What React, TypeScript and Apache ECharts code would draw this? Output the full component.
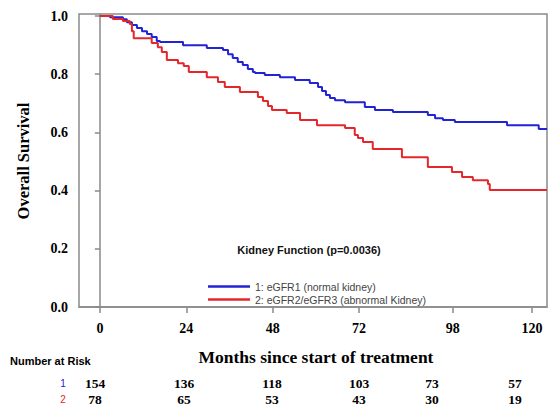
import React, { useEffect, useRef } from "react";
import * as echarts from "echarts";

// ---- data ----
const blueTimes = [0, 2.8, 6.4, 7.5, 8.9, 10.3, 11.7, 13.1, 14.4, 15.8, 16.7, 23.1, 29.7, 34.2, 35.6, 36.9, 38.3, 39.7, 41.1, 42.5, 43.1, 45.8, 50, 54.2, 58.3, 60.6, 61.7, 62.8, 63.9, 65.3, 68.1, 73.6, 76.4, 81.4, 91.1, 93.1, 95.3, 98.6, 113.1, 121.9, 124.2];
const blueSurv = [1.0, 0.996, 0.989, 0.979, 0.969, 0.959, 0.948, 0.938, 0.928, 0.914, 0.911, 0.9, 0.89, 0.883, 0.869, 0.856, 0.842, 0.832, 0.818, 0.808, 0.804, 0.797, 0.79, 0.78, 0.77, 0.756, 0.742, 0.729, 0.718, 0.711, 0.704, 0.687, 0.677, 0.67, 0.66, 0.649, 0.643, 0.636, 0.625, 0.612, 0.612];
const redTimes = [0, 3.6, 6.4, 8.3, 8.9, 9.4, 14.4, 16.1, 17.2, 18.6, 21.7, 23.3, 24.7, 29.7, 32.8, 34.7, 38.9, 43.9, 45.3, 46.7, 47.8, 51.9, 55.6, 60.3, 68.1, 70.8, 71.7, 73.1, 75.8, 83.9, 91.1, 97.8, 100.6, 103.6, 107.8, 108.3, 124.2];
const redSurv = [1.0, 0.99, 0.983, 0.973, 0.948, 0.924, 0.907, 0.893, 0.876, 0.849, 0.838, 0.828, 0.808, 0.79, 0.773, 0.756, 0.739, 0.722, 0.708, 0.691, 0.677, 0.667, 0.643, 0.625, 0.615, 0.591, 0.581, 0.567, 0.543, 0.515, 0.481, 0.464, 0.447, 0.436, 0.423, 0.402, 0.402];
const xTickValues = [0, 24, 48, 72, 98, 120];
const yTickValues = [0, 0.2, 0.4, 0.6, 0.8, 1.0];
const seriesNames = ["1: eGFR1 (normal kidney)", "2: eGFR2/eGFR3 (abnormal Kidney)"];
const riskGroupLabels = ["1", "2"];
const riskGroup1 = [154, 136, 118, 103, 73, 57];
const riskGroup2 = [78, 65, 53, 43, 30, 19];
const titleText = "Kidney Function (p=0.0036)";
const yTitle = "Overall Survival";
const xTitle = "Months since start of treatment";
const riskTitle = "Number at Risk";

// ---- layout / style ----
const BLUE = "#2323d6";
const RED = "#e5262b";
const SERIF = "'Liberation Serif', 'Times New Roman', serif";
const SANS = "'Liberation Sans', Arial, sans-serif";
const AXIS_GRAY = "#8a8a8a";
const riskColX = [95, 184, 272, 359, 432, 515];
const riskRowY = [383, 399];

export default function App() {
  const ref = useRef<HTMLDivElement>(null);
  useEffect(() => {
    if (!ref.current) return;
    const chart = echarts.init(ref.current, undefined, { renderer: "svg" });
    const zip = (t: number[], s: number[]) => t.map((v, i) => [v, s[i]]);

    const riskTexts: any[] = [];
    [riskGroup1, riskGroup2].forEach((row, r) => {
      const y = riskRowY[r];
      riskTexts.push({
        type: "text",
        x: 63,
        y,
        style: {
          text: riskGroupLabels[r],
          fill: r === 0 ? BLUE : RED,
          font: `10px ${SANS}`,
          align: "center",
          verticalAlign: "middle",
        },
      });
      row.forEach((v, i) => {
        riskTexts.push({
          type: "text",
          x: riskColX[i],
          y,
          style: {
            text: String(v),
            fill: "#000",
            font: `bold 13.5px ${SERIF}`,
            align: "center",
            verticalAlign: "middle",
          },
        });
      });
    });

    chart.setOption({
      animation: false,
      backgroundColor: "#fff",
      grid: {
        left: 79,
        right: 1,
        top: 14,
        bottom: 101,
        show: true,
        borderColor: AXIS_GRAY,
        borderWidth: 1.5,
        backgroundColor: "transparent",
      },
      xAxis: {
        type: "value",
        min: -5.8,
        max: 124.2,
        splitLine: { show: false },
        axisLine: { show: true, onZero: false, lineStyle: { color: AXIS_GRAY, width: 1.5 } },
        axisTick: {
          show: true,
          length: 6,
          customValues: xTickValues,
          lineStyle: { color: AXIS_GRAY, width: 1.5 },
        },
        axisLabel: {
          customValues: xTickValues,
          margin: 14,
          fontFamily: SERIF,
          fontWeight: "bold",
          fontSize: 14,
          color: "#000",
        },
      },
      yAxis: {
        type: "value",
        min: 0,
        max: 1.007,
        splitLine: { show: false },
        axisLine: { show: true, lineStyle: { color: AXIS_GRAY, width: 1.5 } },
        axisTick: {
          show: true,
          length: 5,
          customValues: yTickValues,
          lineStyle: { color: AXIS_GRAY, width: 1.5 },
        },
        axisLabel: {
          customValues: yTickValues,
          margin: 11,
          formatter: (v: number) => v.toFixed(1),
          fontFamily: SERIF,
          fontWeight: "bold",
          fontSize: 14,
          color: "#000",
        },
      },
      legend: {
        orient: "vertical",
        left: 203,
        top: 276,
        itemWidth: 42,
        itemHeight: 2.5,
        itemGap: 2,
        icon: "rect",
        data: seriesNames,
        textStyle: { fontFamily: SANS, fontSize: 10.5, color: "#444", padding: [0, 0, 0, 0] },
      },
      series: [
        {
          name: seriesNames[0],
          type: "line",
          step: "end",
          showSymbol: false,
          data: zip(blueTimes, blueSurv),
          lineStyle: { color: BLUE, width: 2 },
          itemStyle: { color: BLUE },
        },
        {
          name: seriesNames[1],
          type: "line",
          step: "end",
          showSymbol: false,
          data: zip(redTimes, redSurv),
          lineStyle: { color: RED, width: 2 },
          itemStyle: { color: RED },
        },
      ],
      graphic: [
        {
          type: "text",
          x: 309,
          y: 250,
          style: {
            text: titleText,
            font: `bold 11px ${SANS}`,
            fill: "#111",
            align: "center",
            verticalAlign: "middle",
          },
        },
        {
          type: "text",
          x: 23,
          y: 161,
          rotation: Math.PI / 2,
          style: {
            text: yTitle,
            font: `bold 16.5px ${SERIF}`,
            fill: "#000",
            align: "center",
            verticalAlign: "middle",
          },
        },
        {
          type: "text",
          x: 316,
          y: 357,
          style: {
            text: xTitle,
            font: `bold 17.5px ${SERIF}`,
            fill: "#000",
            align: "center",
            verticalAlign: "middle",
          },
        },
        {
          type: "text",
          x: 10,
          y: 361,
          style: {
            text: riskTitle,
            font: `bold 11px ${SANS}`,
            fill: "#000",
            align: "left",
            verticalAlign: "middle",
          },
        },
        ...riskTexts,
      ],
    });
    return () => chart.dispose();
  }, []);
  return (
    <div
      ref={ref}
      style={{ position: "fixed", left: 0, top: 0, width: 548, height: 408 }}
    />
  );
}
